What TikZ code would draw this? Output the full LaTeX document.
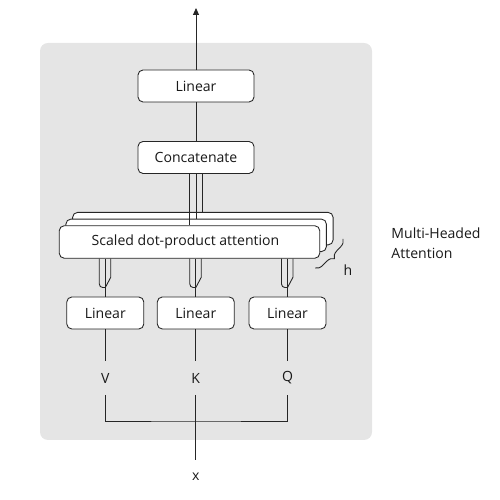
\documentclass[tikz,border=0pt]{standalone}
\usepackage{fontspec}
\setmainfont{Open Sans}
\usetikzlibrary{arrows.meta,decorations.pathreplacing}

\begin{document}
\begin{tikzpicture}[line width=0.5pt, draw=black!85,
    every node/.style={font=\fontsize{8}{11.3}\selectfont, text=black!90},
    block/.style={draw=black!85, fill=white, rounded corners=0.1cm, minimum height=0.64cm, inner sep=0pt},
    varlabel/.style={minimum height=0.66cm, inner sep=0pt}]
    \useasboundingbox (0,0) rectangle (10,10);
    % Grey panel behind the block
    \fill[black!10, rounded corners=0.16cm] (0.8,1.2) rectangle (7.44,9.14);

    % Output side
    \node[block, minimum width=2.32cm] (lin) at (3.92,8.28) {Linear};
    \node[block, minimum width=2.32cm] (concat) at (3.92,6.85) {Concatenate};
    \coordinate (out) at (3.92,9.84);

    % h stacked attention heads (back to front)
    \node[block, minimum width=5.21cm, minimum height=0.65cm] (back) at (4.057,5.427) {};
    \node[block, minimum width=5.21cm, minimum height=0.65cm] (mid) at (3.923,5.293) {};
    \node[block, minimum width=5.21cm, minimum height=0.65cm] (front) at (3.79,5.16) {\hspace{-0.16cm}Scaled dot-product attention};

    % Input projections
    \node[block, minimum width=1.54cm] (lv) at (2.106,3.74) {Linear};
    \node[block, minimum width=1.54cm] (lk) at (3.916,3.74) {Linear};
    \node[block, minimum width=1.54cm] (lq) at (5.75,3.74) {Linear};

    \node[varlabel] (V) at (2.106,2.44) {V};
    \node[varlabel] (K) at (3.916,2.44) {K};
    \node[varlabel] (Q) at (5.75,2.44) {Q};
    \node[varlabel] (x) at (3.916,0.466) {x};
    \coordinate (jn) at (3.916,1.58);

    \node[anchor=west, align=left, inner sep=0pt] (mha) at (7.82,5.14) {Multi-Headed\\Attention};
    \node (h) at (6.96,4.6) {h};

    % Connections
    \draw[-{Triangle[length=0.14cm,width=0.12cm]}] (lin.north) -- (out);
    \draw (concat.north) -- (lin.south);
    \foreach \b in {front,mid,back}
        \draw (\b.north |- concat.south) -- (\b.north);
    \foreach \n in {lv,lk,lq} {
        \draw (\n.north) -- (\n.north |- front.south);
        \draw[rounded corners=2pt] ([xshift=-0.12cm]\n.north |- front.south) |- ([yshift=0.18cm]\n.north);
        \draw ([xshift=0.11cm]\n.north |- front.south) -- ++(0,-0.37) -- ([yshift=0.18cm]\n.north);
    }
    \draw (lv.south) -- (V.north);
    \draw (lk.south) -- (K.north);
    \draw (lq.south) -- (Q.north);
    \draw (V.south) |- (jn) -| (Q.south);
    \draw (K.south) -- (x.north);

    % Brace marking the h copies
    \draw[decorate, decoration={brace, amplitude=0.15cm}] (6.86,5.22) -- (6.3,4.64);
\end{tikzpicture}
\end{document}
